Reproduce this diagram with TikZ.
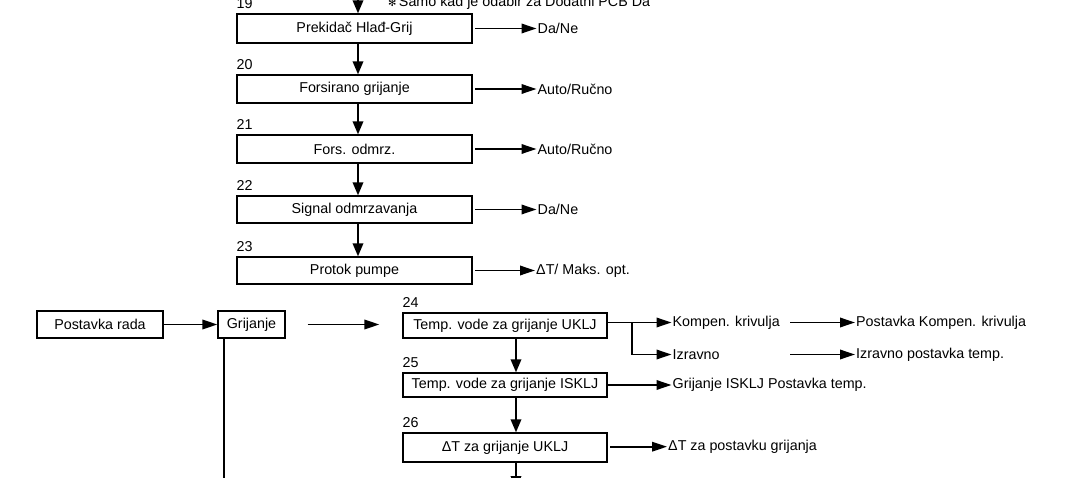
\documentclass[tikz,border=0pt]{standalone}
\usepackage{fontspec}
\setmainfont{Liberation Sans}
\newfontfamily\symfont{DejaVu Sans}
\usetikzlibrary{arrows.meta,calc}
\newcommand{\fsz}{\fontsize{14.3}{17}\selectfont}
\begin{document}
\begin{tikzpicture}[x=1pt,y=-1pt,
  box/.style={draw, line width=1.3pt, inner sep=0pt, font=\fsz},
  lbl/.style={anchor=base west, inner sep=0pt, font=\fsz},
  txt/.style={anchor=west, inner sep=1pt, font=\fsz},
  arr/.style={line width=1.8pt, -{Triangle[length=15pt,width=9.5pt]}},
  arrv/.style={line width=1.8pt, -{Triangle[length=13pt,width=10.5pt]}},
  ln/.style={line width=1.8pt}]
\useasboundingbox (0,0) rectangle (1079,478);
\fill[white] (0,0) rectangle (1079,478);

% top note
\node[anchor=base west, inner sep=0pt, font=\fsz] (note) at (388,7)
  {{\symfont\fontsize{10}{11}\selectfont ✻}\,Samo kad je odabir za Dodatni PCB Da};

% upper column
\node[box, minimum width=235pt, minimum height=29pt] (b19) at (354.5,28.5) {Prekidač Hlađ-Grij};
\node[box, minimum width=235pt, minimum height=28pt] (b20) at (354.5,89) {Forsirano grijanje};
\node[box, minimum width=235pt, minimum height=28pt] (b21) at (354.5,149) {Fors. odmrz.};
\node[box, minimum width=235pt, minimum height=27pt] (b22) at (354.5,209.5) {Signal odmrzavanja};
\node[box, minimum width=235pt, minimum height=27pt] (b23) at (354.5,270.5) {Protok pumpe};

\node[lbl] (l19) at ([yshift=5pt]b19.north west) {19};
\node[lbl] (l20) at ([yshift=4.5pt]b20.north west) {20};
\node[lbl] (l21) at ([yshift=4.5pt]b21.north west) {21};
\node[lbl] (l22) at ([yshift=4.5pt]b22.north west) {22};
\node[lbl] (l23) at ([yshift=4.5pt]b23.north west) {23};

\coordinate (top19) at (358,-12);
\draw[arrv] (top19) -- ([xshift=3.5pt]b19.north);
\draw[arrv] ([xshift=3.5pt]b19.south) -- ([xshift=3.5pt]b20.north);
\draw[arrv] ([xshift=3.5pt]b20.south) -- ([xshift=3.5pt]b21.north);
\draw[arrv] ([xshift=3.5pt]b21.south) -- ([xshift=3.5pt]b22.north);
\draw[arrv] ([xshift=3.5pt]b22.south) -- ([xshift=3.5pt]b23.north);

\node[txt] (r19) at (536.5,28.5) {Da/Ne};
\node[txt] (r20) at (536.5,89) {Auto/Ručno};
\node[txt] (r21) at (536.5,149) {Auto/Ručno};
\node[txt] (r22) at (536.5,209.5) {Da/Ne};
\node[txt] (r23) at (535,270.5) {ΔT/ Maks. opt.};

\draw[arr] ([xshift=2.5pt]b19.east) -- (r19.west);
\draw[arr] ([xshift=2.5pt]b20.east) -- (r20.west);
\draw[arr] ([xshift=2.5pt]b21.east) -- (r21.west);
\draw[arr] ([xshift=2.5pt]b22.east) -- (r22.west);
\draw[arr] ([xshift=2.5pt]b23.east) -- (r23.west);

% lower part
\node[box, minimum width=126pt, minimum height=27pt] (pr) at (100,324.5) {Postavka rada};
\node[box, minimum width=67pt, minimum height=27pt] (gr) at (251.5,324.5) {Grijanje};
\draw[arr] (pr.east) -- (gr.west);

\node[box, minimum width=204pt, minimum height=25pt] (b24) at (505,325.5) {Temp. vode za grijanje UKLJ};
\node[box, minimum width=204pt, minimum height=24pt] (b25) at (505,385) {Temp. vode za grijanje ISKLJ};
\node[box, minimum width=204pt, minimum height=29pt] (b26) at (505,447.5) {ΔT za grijanje UKLJ};

\node[lbl] (l24) at ([yshift=4.5pt]b24.north west) {24};
\node[lbl] (l25) at ([yshift=4.5pt]b25.north west) {25};
\node[lbl] (l26) at ([yshift=4.5pt]b26.north west) {26};

\draw[arr, shorten <=22pt, shorten >=23pt] (gr.east) -- (gr.east -| b24.west);
\coordinate (grbot) at (224.3,500);
\draw[ln] (gr.south -| grbot) -- (grbot);

\draw[arrv] ([xshift=11pt]b24.south) -- ([xshift=11pt]b25.north);
\draw[arrv] ([xshift=11pt]b25.south) -- ([xshift=11pt]b26.north);
\coordinate (bot26) at (516,489);
\draw[arrv] ([xshift=11pt]b26.south) -- (bot26);

\node[txt] (komp) at (671.5,322.5) {Kompen. krivulja};
\node[txt] (izr) at (671.5,354.5) {Izravno};
\node[txt] (pkomp) at (855,322.5) {Postavka Kompen. krivulja};
\node[txt] (pizr) at (855,354.5) {Izravno postavka temp.};
\node[txt] (g25) at (671.5,385) {Grijanje ISKLJ Postavka temp.};
\node[txt] (d26) at (667,446.7) {ΔT za postavku grijanja};

\draw[arr] (b24.east |- komp) -- (komp.west);
\coordinate (br) at (631.7,322.5);
\draw[arr] (br) |- (izr.west);
\coordinate (k2) at (790,322.5);
\coordinate (i2) at (790,354.5);
\draw[arr] (k2) -- (pkomp.west);
\draw[arr] (i2) -- (pizr.west);
\draw[arr] (b25.east |- g25) -- (g25.west);
\draw[arr] ([xshift=2.5pt]b26.east |- d26) -- (d26.west);
\end{tikzpicture}
\end{document}
